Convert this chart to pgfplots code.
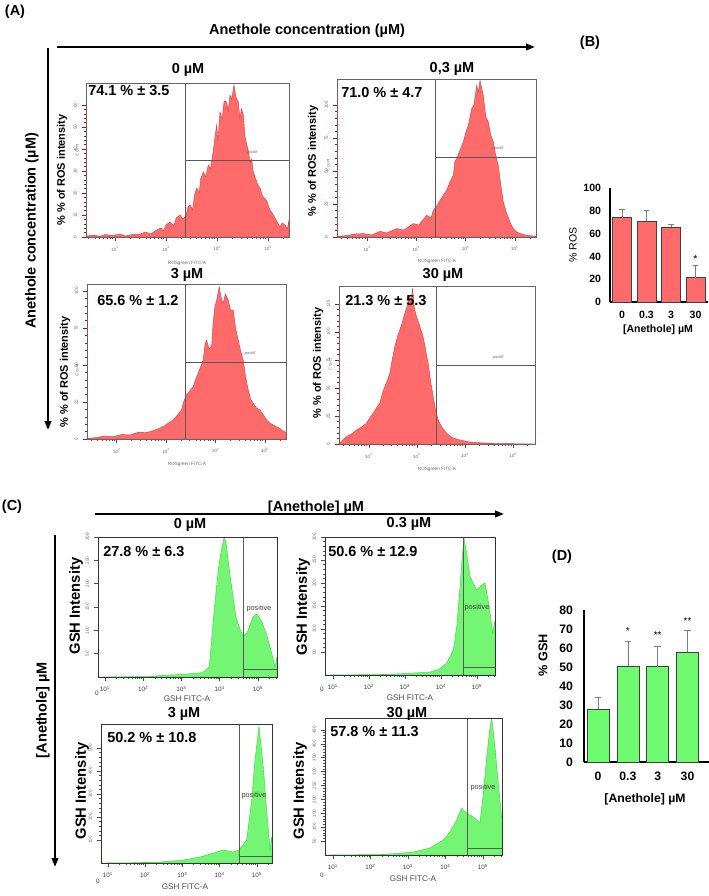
\documentclass[border=0pt]{standalone}
\usepackage{pgfplots}
\pgfplotsset{compat=1.18}
\usepackage{fontspec}
\setmainfont{Liberation Sans}
\usetikzlibrary{arrows.meta}

\def\px{0.025cm}
\newcommand\fs[1]{\fontsize{#1}{#1}\selectfont}

\definecolor{rosfill}{HTML}{FF6B6B}
\definecolor{rosedge}{HTML}{E33A3A}
\definecolor{gshfill}{HTML}{74F574}
\definecolor{gshedge}{HTML}{2FE02F}
\definecolor{rosbar}{HTML}{FF6A6A}
\definecolor{gshbar}{HTML}{6FFB6F}

% log minor ticks, x in decades
\def\logminor{1.301,1.477,1.602,1.699,1.778,1.845,1.903,1.954,2.301,2.477,2.602,2.699,2.778,2.845,2.903,2.954,3.301,3.477,3.602,3.699,3.778,3.845,3.903,3.954,4.301,4.477,4.602,4.699,4.778,4.845,4.903,4.954,5.301,5.477}

\tikzset{gate/.style={black!65, line width=0.45pt}}

\pgfplotsset{
  facs/.style={
    scale only axis, ymin=0, axis on top, clip=true,
    tick pos=left, tick align=outside,
    major tick length=0.1cm, minor tick length=0.055cm,
    axis line style={black!60, line width=0.45pt},
    major tick style={black!70, line width=0.35pt},
    minor tick style={black!70, line width=0.3pt},
    minor xtick/.expand once=\logminor,
    minor y tick num=4,
    xticklabel style={font=\fs{3.2}, text=black!60},
    yticklabel style={font=\fs{3.2}, text=black!60, rotate=90, anchor=south},
  },
  facsA/.style={facs,
    xtick={2,3,4,5},
    xticklabels={10\textsuperscript{2},10\textsuperscript{3},10\textsuperscript{4},10\textsuperscript{5}},
    ytick style={red!80!black},
  },
  facsC/.style={facs,
    xtick={1,2,3,4,5},
    xticklabels={10\textsuperscript{1},10\textsuperscript{2},10\textsuperscript{3},10\textsuperscript{4},10\textsuperscript{5}},
    xticklabel style={font=\fs{4.5}, text=black!75},
    axis line style={black!80, line width=0.5pt},
  },
  rosplot/.style={fill=rosfill, draw=rosedge, line width=0.3pt},
  gshplot/.style={fill=gshfill, draw=gshedge, line width=0.3pt},
  barax/.style={
    scale only axis, ymin=0, axis lines=left,
    axis line style={-, line width=0.8pt, black},
    ybar, xtick={0,1,2,3}, xticklabels={0,0.3,3,30},
    major tick length=0pt,
    /pgf/number format/assume math mode=true,
  },
}

\begin{document}
\begin{tikzpicture}
\path[use as bounding box] (0,0) rectangle (709*\px,-896*\px);

% ---------------- (A) ROS histograms ----------------
% 0 uM
\begin{axis}[facsA, at={(86*\px,-237*\px)}, anchor=south west,
  width=203*\px, height=154*\px, xmin=1.431, xmax=5.412, ymax=154,
  ytick={0,22,44,66,88,110,132}, yticklabels={0,10,20,30,40,50,60}]
\addplot[rosplot] coordinates {
(1.431,0) (1.445,1) (1.6,2) (1.7,0.5) (1.8,2.5) (1.967,1.5) (2.1,3) (2.2,1) (2.35,2.5) (2.49,3)
(2.6,5) (2.7,3) (2.818,7) (2.9,9) (2.95,6) (3.0,12) (3.078,15) (3.15,11) (3.2,19) (3.275,22)
(3.33,18) (3.392,21) (3.43,30) (3.471,32) (3.52,27) (3.56,42) (3.602,49) (3.65,44) (3.68,58) (3.731,65)
(3.78,60) (3.829,72) (3.87,68) (3.927,86) (3.96,100) (3.994,112) (4.02,96) (4.059,125) (4.1,118) (4.14,136)
(4.19,135) (4.22,126) (4.255,142) (4.29,138) (4.333,152) (4.37,140) (4.418,135) (4.45,118) (4.48,128) (4.516,122)
(4.55,100) (4.614,86) (4.65,74) (4.68,78) (4.712,65) (4.76,58) (4.80,52) (4.843,49) (4.9,40) (4.975,36)
(5.03,28) (5.104,22) (5.17,16) (5.235,10) (5.28,14) (5.333,12) (5.38,8) (5.412,17)
} \closedcycle;
\draw[gate] (axis cs:3.373,0) -- (axis cs:3.373,154);
\draw[gate] (axis cs:3.373,77) -- (axis cs:5.412,77);
\draw[red!80!black, line width=0.5pt] (rel axis cs:0,0) -- (rel axis cs:0,1);
\end{axis}

% 0,3 uM
\begin{axis}[facsA, at={(337*\px,-237*\px)}, anchor=south west,
  width=199*\px, height=158*\px, xmin=1.391, xmax=5.428, ymax=158,
  ytick={0,33,66,99,132}, yticklabels={0,25,50,75,100}]
\addplot[rosplot] coordinates {
(1.391,0) (1.418,0.7) (1.6,1.5) (1.75,3) (1.925,3.4) (2.1,2) (2.264,5.7) (2.4,4) (2.602,8.4) (2.75,7)
(2.939,13.4) (3.05,12) (3.211,21.7) (3.3,19) (3.345,26.7) (3.42,31) (3.481,36.7) (3.55,42) (3.617,46.7) (3.68,55)
(3.751,61.7) (3.78,75) (3.820,78.4) (3.88,86) (3.953,95) (4.0,104) (4.055,111.7) (4.09,120) (4.124,128.4) (4.17,132)
(4.225,151.7) (4.26,145) (4.292,156.7) (4.33,148) (4.359,141.7) (4.41,120) (4.460,115) (4.51,102) (4.562,95) (4.61,82)
(4.663,71.7) (4.72,50) (4.765,35) (4.83,24) (4.901,15) (4.97,8) (5.036,5) (5.13,3) (5.239,1.7) (5.428,0.7)
} \closedcycle;
\draw[gate] (axis cs:3.379,0) -- (axis cs:3.379,158);
\draw[gate] (axis cs:3.379,80) -- (axis cs:5.428,80);
\draw[red!80!black, line width=0.5pt] (rel axis cs:0,0) -- (rel axis cs:0,1);
\end{axis}

% 3 uM
\begin{axis}[facsA, at={(87*\px,-439*\px)}, anchor=south west,
  width=199*\px, height=155*\px, xmin=1.398, xmax=5.428, ymax=155,
  ytick={0,37,74,111,148}, yticklabels={0,25,50,75,100}]
\addplot[rosplot] coordinates {
(1.398,0) (1.418,0.7) (1.6,1.5) (1.75,3) (1.925,2.3) (2.1,4.5) (2.264,4) (2.45,7) (2.602,6.3) (2.78,9)
(2.939,12.3) (3.05,16) (3.142,19) (3.23,24) (3.312,29) (3.36,38) (3.414,44) (3.48,48) (3.548,52.3) (3.6,60)
(3.649,65.7) (3.7,72) (3.751,79) (3.79,95) (3.819,99) (3.87,90) (3.921,92.3) (3.95,115) (3.988,132.3) (4.03,140)
(4.075,152.3) (4.12,140) (4.156,135.7) (4.2,145) (4.258,139) (4.31,128) (4.359,129) (4.41,110) (4.460,99) (4.51,88)
(4.562,79) (4.61,62) (4.663,49) (4.71,40) (4.765,35.7) (4.83,31) (4.901,29) (4.97,24) (5.036,19) (5.1,16)
(5.170,14) (5.24,12) (5.306,10.7) (5.36,8) (5.408,7.3) (5.428,6)
} \closedcycle;
\draw[gate] (axis cs:3.379,0) -- (axis cs:3.379,155);
\draw[gate] (axis cs:3.379,77) -- (axis cs:5.428,77);
\draw[red!80!black, line width=0.5pt] (rel axis cs:0,0) -- (rel axis cs:0,1);
\end{axis}

% 30 uM
\begin{axis}[facsA, at={(339*\px,-444*\px)}, anchor=south west,
  width=196*\px, height=158*\px, xmin=1.381, xmax=5.458, ymax=158,
  ytick={0,28,56,84,112,140}, yticklabels={0,25,50,75,100,125}]
\addplot[rosplot] coordinates {
(1.381,0) (1.396,0.7) (1.46,4) (1.535,7.3) (1.64,10) (1.744,14) (1.85,17) (1.952,20.7) (2.02,26) (2.090,30.7)
(2.16,36) (2.229,40.7) (2.28,50) (2.333,57.3) (2.39,64) (2.438,70.7) (2.49,85) (2.542,97.3) (2.6,108) (2.646,114)
(2.7,122) (2.750,130.7) (2.8,138) (2.854,147.3) (2.88,140) (2.910,155.7) (2.95,135) (2.994,127.3) (3.06,118) (3.131,107.3)
(3.18,95) (3.235,80.7) (3.29,62) (3.340,47.3) (3.39,34) (3.444,24) (3.53,16) (3.619,10.7) (3.75,6) (3.896,4)
(4.1,2) (4.313,1.3) (4.6,0.5) (5.0,0.3) (5.458,0)
} \closedcycle;
\draw[gate] (axis cs:3.396,0) -- (axis cs:3.396,158);
\draw[gate] (axis cs:3.396,79) -- (axis cs:5.458,79);
\draw[red!80!black, line width=0.5pt] (rel axis cs:0,0) -- (rel axis cs:0,1);
\end{axis}

% ---------------- (B) ROS bars ----------------
\begin{axis}[barax, at={(610*\px,-302*\px)}, anchor=south west,
  width=98*\px, height=114*\px, xmin=-0.49, xmax=3.51, ymax=100,
  bar width=0.475cm, ytick={0,20,...,100},
  ticklabel style={font=\bfseries\fs{7.5}},
  yticklabel style={xshift=-0.1cm}, xticklabel style={yshift=-0.1cm}]
\addplot[fill=rosbar, draw=black!75, line width=0.5pt,
  error bars/.cd, y dir=plus, y explicit,
  error bar style={black!50, line width=0.5pt},
  error mark options={rotate=90, black!50, mark size=0.07cm, line width=0.5pt}]
  coordinates {(0,74.1) +- (0,7.0) (1,71.0) +- (0,9.4) (2,65.6) +- (0,2.4) (3,21.3) +- (0,10.6)};
\node[font=\fs{7.5}] at (axis cs:3,38) {*};
\end{axis}

% ---------------- (C) GSH histograms ----------------
% 0 uM
\begin{axis}[facsC, at={(98*\px,-677*\px)}, anchor=south west,
  width=179*\px, height=140*\px, xmin=0.817, xmax=5.497, ymax=140,
  ytick={23.3,46.7,70,93.3,116.7,140}, yticklabels={50,100,150,200,250,300}]
\addplot[gshplot] coordinates {
(0.817,0) (2.176,0.5) (2.438,1.5) (2.961,2.5) (3.484,4) (3.614,6) (3.727,10) (3.771,30) (3.831,57) (3.902,85)
(3.962,107) (4.033,125) (4.111,139) (4.163,135) (4.250,107) (4.320,88) (4.425,60) (4.529,48) (4.616,40) (4.712,44)
(4.791,52) (4.869,60) (4.966,63) (5.026,60) (5.105,55) (5.227,42) (5.358,24) (5.444,10) (5.497,20)
} \closedcycle;
\draw[gate] (axis cs:4.608,0) -- (axis cs:4.608,140);
\draw[gate] (axis cs:4.608,8) -- (axis cs:5.497,8);
\end{axis}

% 0.3 uM
\begin{axis}[facsC, at={(325*\px,-675*\px)}, anchor=south west,
  width=170*\px, height=138*\px, xmin=0.778, xmax=5.5, ymax=138,
  ytick={23,46,69,92,115,138}, yticklabels={50,100,150,200,250,300}]
\addplot[gshplot] coordinates {
(0.778,0) (2.306,0.5) (2.769,1) (3.231,2) (3.694,3) (3.972,6) (4.158,12) (4.342,25) (4.436,48) (4.528,88)
(4.583,115) (4.639,137) (4.722,120) (4.806,98) (4.992,85) (5.131,90) (5.222,92) (5.342,68) (5.436,42) (5.5,55)
} \closedcycle;
\draw[gate] (axis cs:4.611,0) -- (axis cs:4.611,138);
\draw[gate] (axis cs:4.611,8) -- (axis cs:5.5,8);
\end{axis}

% 3 uM
\begin{axis}[facsC, at={(101*\px,-863*\px)}, anchor=south west,
  width=171*\px, height=139*\px, xmin=0.812, xmax=5.403, ymax=139,
  ytick={23,46,69,92,115}, yticklabels={100,200,300,400,500}]
\addplot[gshplot] coordinates {
(0.812,0) (1.671,0.3) (2.396,1) (3.021,3) (3.470,6) (3.827,10) (4.095,13) (4.364,11) (4.517,13) (4.723,23)
(4.858,63) (4.946,103) (5.054,137) (5.169,96) (5.260,53) (5.349,13) (5.395,26) (5.403,26)
} \closedcycle;
\draw[gate] (axis cs:4.517,0) -- (axis cs:4.517,139);
\draw[gate] (axis cs:4.517,7) -- (axis cs:5.403,7);
\end{axis}

% 30 uM
\begin{axis}[facsC, at={(325*\px,-855*\px)}, anchor=south west,
  width=177*\px, height=137*\px, xmin=0.787, xmax=5.507, ymax=137,
  ytick={13.9,27.8,41.7,55.6,69.5,83.4,97.3,111.2,125.1}, yticklabels={50,100,150,200,250,300,350,400,450}]
\addplot[gshplot] coordinates {
(0.787,0) (2.253,0.5) (2.699,1.5) (3.141,3) (3.587,7) (3.941,15) (4.120,23) (4.299,35) (4.432,47) (4.475,45)
(4.565,42) (4.741,38) (4.920,32) (5.008,62) (5.099,98) (5.187,128) (5.232,137) (5.320,108) (5.408,72) (5.499,38) (5.507,38)
} \closedcycle;
\draw[gate] (axis cs:4.573,0) -- (axis cs:4.573,137);
\draw[gate] (axis cs:4.573,7) -- (axis cs:5.507,7);
\end{axis}

% ---------------- (D) GSH bars ----------------
\begin{axis}[barax, at={(584*\px,-762*\px)}, anchor=south west,
  width=125*\px, height=152*\px, xmin=-0.47, xmax=3.72, ymax=80,
  bar width=0.55cm, ytick={0,10,...,80},
  ticklabel style={font=\bfseries\fs{8.7}},
  yticklabel style={xshift=-0.15cm}, xticklabel style={yshift=-0.12cm}]
\addplot[fill=gshbar, draw=black!75, line width=0.5pt,
  error bars/.cd, y dir=plus, y explicit,
  error bar style={black!50, line width=0.5pt},
  error mark options={rotate=90, black!50, mark size=0.08cm, line width=0.5pt}]
  coordinates {(0,27.8) +- (0,6.3) (1,50.6) +- (0,12.9) (2,50.2) +- (0,10.8) (3,57.8) +- (0,11.3)};
\node[font=\fs{7}] at (axis cs:1,69) {*};
\node[font=\fs{7}] at (axis cs:2,67) {**};
\node[font=\fs{7}] at (axis cs:3,74) {**};
\end{axis}

% ---------------- texts and arrows ----------------
\begin{scope}[x=\px, y=-\px]
\tikzset{bt/.style={font=\bfseries\fs{10.3}, inner sep=0pt}}
% panel A
\node[bt] at (15,12) {(A)};
\node[bt] at (307,31) {Anethole concentration (µM)};
\draw[line width=0.05cm, -{Triangle[length=0.22cm, width=0.16cm]}] (57,47) -- (535,47);
\draw[line width=0.05cm, -{Triangle[length=0.22cm, width=0.16cm]}] (48,48) -- (48,430);
\node[bt, rotate=90] at (32,231) {Anethole concentration (µM)};
\node[bt] at (188,70) {0 µM};
\node[bt] at (452,69) {0,3 µM};
\node[bt] at (187,275) {3 µM};
\node[bt] at (443,275) {30 µM};
\node[bt, anchor=west] at (88,91) {74.1 \% ± 3.5};
\node[bt, anchor=west] at (341,93) {71.0 \% ± 4.7};
\node[bt, anchor=west] at (97,301) {65.6 \% ± 1.2};
\node[bt, anchor=west] at (345,301) {21.3 \% ± 5.3};
\foreach \xx/\yy in {62/170, 313/161, 65/372, 318/363}
  \node[font=\bfseries\fs{7.8}, rotate=90, inner sep=0pt] at (\xx,\yy) {\% \% of ROS intensity};
\foreach \xx/\yy in {77/150, 328/165, 77/370, 330/364}
  \node[font=\fs{3.2}, text=black!50, rotate=90, inner sep=0pt] at (\xx,\yy) {Count};
\foreach \xx/\yy in {187/263, 437/261, 187/464, 437/469}
  \node[font=\fs{3.3}, text=black!60, inner sep=0pt] at (\xx,\yy) {ROSgreen FITC-A};
\foreach \xx/\yy in {252/152, 498/148, 250/353, 498/357}
  \node[font=\itshape\fs{2.8}, text=black!60, inner sep=0pt] at (\xx,\yy) {positif};
% panel B
\node[bt] at (590,43) {(B)};
\node[font=\fs{7.5}, rotate=90, inner sep=0pt] at (573,245) {\% ROS};
\node[font=\bfseries\fs{7.5}, inner sep=0pt] at (658,330) {[Anethole] µM};
% panel C
\node[bt] at (12,507) {(C)};
\node[bt] at (316,508) {[Anethole] µM};
\draw[line width=0.05cm, -{Triangle[length=0.22cm, width=0.16cm]}] (95,514) -- (504,514);
\draw[line width=0.05cm, -{Triangle[length=0.22cm, width=0.16cm]}] (55,535) -- (55,867);
\node[bt, rotate=90] at (43,710) {[Anethole] µM};
\node[bt] at (190,525) {0 µM};
\node[bt] at (409,524) {0.3 µM};
\node[bt] at (184,714) {3 µM};
\node[bt] at (407,714) {30 µM};
\node[bt, anchor=west] at (103,552) {27.8 \% ± 6.3};
\node[bt, anchor=west] at (328,552) {50.6 \% ± 12.9};
\node[bt, anchor=west] at (107,738) {50.2 \% ± 10.8};
\node[bt, anchor=west] at (330,732) {57.8 \% ± 11.3};
\foreach \xx/\yy in {76/606, 303/607, 82/791, 300/791}
  \node[font=\bfseries\fs{10.5}, rotate=90, inner sep=0pt] at (\xx,\yy) {GSH Intensity};
\foreach \xx/\yy in {259/609, 477/608, 254/796, 483/788}
  \node[font=\fs{5.2}, text=black!75, inner sep=0pt] at (\xx,\yy) {positive};
\foreach \xx/\yy in {187/699, 410/698, 185/887, 413/879}
  \node[font=\fs{5.8}, text=black!70, inner sep=0pt] at (\xx,\yy) {GSH FITC-A};
\foreach \xx/\yy in {97/693, 322/689, 98/881, 322/875}
  \node[font=\fs{4.5}, text=black!75, inner sep=0pt] at (\xx,\yy) {0};
% panel D
\node[bt] at (562,557) {(D)};
\node[font=\bfseries\fs{9}, rotate=90, inner sep=0pt] at (543,655) {\% GSH};
\node[font=\bfseries\fs{8.7}, inner sep=0pt] at (645,799) {[Anethole] µM};
\end{scope}
\end{tikzpicture}
\end{document}
